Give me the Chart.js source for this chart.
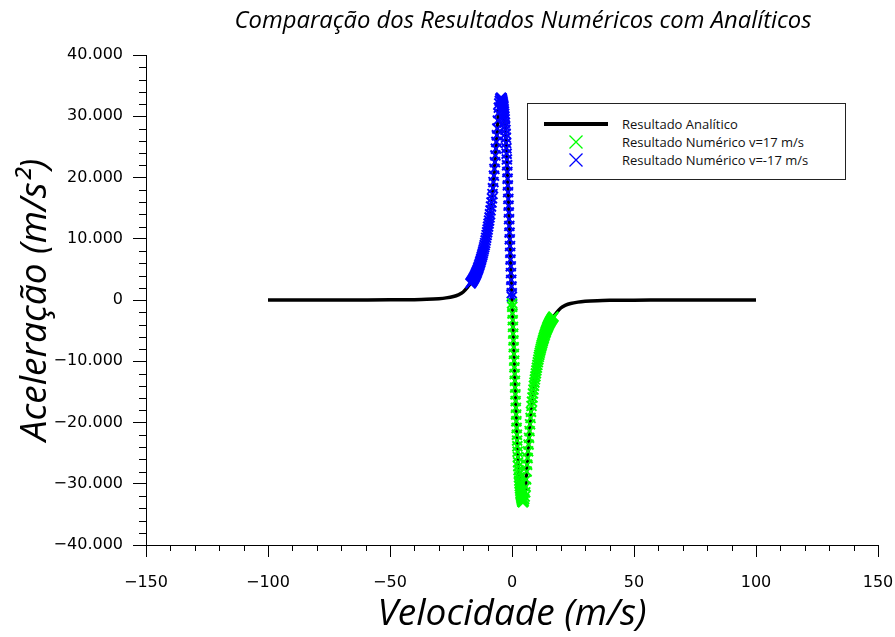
<!DOCTYPE html>
<html lang="pt">
<head>
<meta charset="utf-8">
<title>Comparação dos Resultados Numéricos com Analíticos</title>
<script src="https://cdn.jsdelivr.net/npm/chart.js@4.4.1/dist/chart.umd.min.js"></script>
<style>
  body { margin: 0; background: #fff; }
  #wrap { position: relative; width: 895px; height: 637px; }
  #legend {
    position: absolute; left: 527px; top: 103px; width: 317px; height: 75px;
    border: 1px solid #222; background: #fff;
    font: 13px "Open Sans", Lato, sans-serif; color: #111;
  }
  #legend .row { position: absolute; left: 0; height: 18px; width: 100%; }
  #legend .sym { position: absolute; left: 14px; top: 0; width: 68px; height: 18px; }
  #legend .txt { position: absolute; left: 94px; top: 0; line-height: 18px; white-space: nowrap; }
</style>
</head>
<body>
<div id="wrap">
  <canvas id="chart" width="895" height="637"></canvas>
  <div id="legend"></div>
</div>
<script>
  // axis ranges and ticks
  const xMin = -150, xMax = 150, xStep = 50, xMinorStep = 10;
  const yMin = -40000, yMax = 40000, yStep = 10000, yMinorStep = 2000;

  // analytic curve: velocity (m/s) and acceleration (m/s²)
  const analyticV = [-100, -80, -60, -50, -40, -35, -30, -27, -24, -22, -20, -18, -16, -14, -12, -11, -10, -9, -8, -7, -6, -5.5, -5, -4.5, -4, -3.5, -3, -2.5, -2, -1.5, -1, -0.5,
    0, 0.5, 1, 1.5, 2, 2.5, 3, 3.5, 4, 4.5, 5, 5.5, 6, 7, 8, 9, 10, 11, 12, 14, 16, 18, 20, 22, 24, 27, 30, 35, 40, 50, 60, 80, 100];
  const analyticA = [2, 5, 12, 25, 60, 110, 220, 350, 580, 850, 1300, 2200, 3300, 5000, 7600, 9300, 11500, 14000, 17300, 22500, 28000, 31000, 32500, 33000, 32500, 31500, 29500, 26500, 22000, 16500, 11000, 5500,
    0, -5500, -11000, -16500, -22000, -26500, -29500, -31500, -32500, -33000, -32500, -31000, -28000, -22500, -17300, -14000, -11500, -9300, -7600, -5000, -3300, -2200, -1300, -850, -580, -350, -220, -110, -60, -25, -12, -5, -2];

  // numerical result, starting at v = 17 m/s
  const posV = [17.0, 16.8, 16.6, 16.4, 16.2, 16.0, 15.8, 15.6, 15.4, 15.2, 15.0, 14.8, 14.6, 14.4, 14.2, 14.0, 13.8, 13.6, 13.4, 13.2, 13.0,
    12.8, 12.6, 12.4, 12.2, 12.0, 11.8, 11.6, 11.4, 11.2, 11.0, 10.8, 10.6, 10.4, 10.2, 10.0, 9.8, 9.6, 9.4, 9.2, 9.0,
    8.8, 8.6, 8.4, 8.2, 8.0, 7.8, 7.6, 7.4, 7.2, 7.0, 6.8, 6.6, 6.4, 6.2, 6.0, 5.8, 5.6, 5.4, 5.2, 5.0, 4.8, 4.6,
    4.4, 4.3, 4.2, 4.1, 4.0, 3.9, 3.8, 3.7, 3.6, 3.5, 3.4, 3.3, 3.2, 3.1, 3.0, 2.9, 2.8, 2.7, 2.6, 2.5, 2.4, 2.3, 2.2, 2.1, 2.0,
    1.9, 1.8, 1.7, 1.6, 1.5, 1.4, 1.3, 1.2, 1.1, 1.0, 0.9, 0.8, 0.7, 0.6, 0.5, 0.4, 0.3, 0.2, 0.1, 0.05];
  const posA = [-2700, -2810, -2930, -3050, -3170, -3300, -3440, -3580, -3730, -3890, -4050, -4230, -4410, -4600, -4800, -5000, -5230, -5460, -5700, -5950, -6200,
    -6470, -6750, -7030, -7310, -7600, -7930, -8260, -8600, -8950, -9300, -9720, -10150, -10600, -11050, -11500, -11980, -12470, -12970, -13480, -14000,
    -14620, -15260, -15920, -16600, -17300, -18250, -19250, -20300, -21400, -22500, -23600, -24700, -25800, -26900, -28000, -29300, -30500, -31400, -32100, -32500, -32800, -33000,
    -33000, -32950, -32850, -32700, -32500, -32320, -32120, -31920, -31720, -31500, -31150, -30780, -30400, -29960, -29500, -28950, -28380, -27780, -27150, -26500, -25650, -24780, -23880, -22950, -22000,
    -20900, -19800, -18700, -17600, -16500, -15400, -14300, -13200, -12100, -11000, -9900, -8800, -7700, -6600, -5500, -4400, -3300, -2200, -1100, -550];

  // numerical result, starting at v = -17 m/s
  const negV = [-17.0, -16.8, -16.6, -16.4, -16.2, -16.0, -15.8, -15.6, -15.4, -15.2, -15.0, -14.8, -14.6, -14.4, -14.2, -14.0, -13.8, -13.6, -13.4, -13.2, -13.0,
    -12.8, -12.6, -12.4, -12.2, -12.0, -11.8, -11.6, -11.4, -11.2, -11.0, -10.8, -10.6, -10.4, -10.2, -10.0, -9.8, -9.6, -9.4, -9.2, -9.0,
    -8.8, -8.6, -8.4, -8.2, -8.0, -7.8, -7.6, -7.4, -7.2, -7.0, -6.8, -6.6, -6.4, -6.2, -6.0, -5.8, -5.6, -5.4, -5.2, -5.0, -4.8, -4.6,
    -4.4, -4.3, -4.2, -4.1, -4.0, -3.9, -3.8, -3.7, -3.6, -3.5, -3.4, -3.3, -3.2, -3.1, -3.0, -2.9, -2.8, -2.7, -2.6, -2.5, -2.4, -2.3, -2.2, -2.1, -2.0,
    -1.9, -1.8, -1.7, -1.6, -1.5, -1.4, -1.3, -1.2, -1.1, -1.0, -0.9, -0.8, -0.7, -0.6, -0.5, -0.4, -0.3, -0.2, -0.1, -0.05];
  const negA = [2700, 2810, 2930, 3050, 3170, 3300, 3440, 3580, 3730, 3890, 4050, 4230, 4410, 4600, 4800, 5000, 5230, 5460, 5700, 5950, 6200,
    6470, 6750, 7030, 7310, 7600, 7930, 8260, 8600, 8950, 9300, 9720, 10150, 10600, 11050, 11500, 11980, 12470, 12970, 13480, 14000,
    14620, 15260, 15920, 16600, 17300, 18250, 19250, 20300, 21400, 22500, 23600, 24700, 25800, 26900, 28000, 29300, 30500, 31400, 32100, 32500, 32800, 33000,
    33000, 32950, 32850, 32700, 32500, 32320, 32120, 31920, 31720, 31500, 31150, 30780, 30400, 29960, 29500, 28950, 28380, 27780, 27150, 26500, 25650, 24780, 23880, 22950, 22000,
    20900, 19800, 18700, 17600, 16500, 15400, 14300, 13200, 12100, 11000, 9900, 8800, 7700, 6600, 5500, 4400, 3300, 2200, 1100, 550];

  const labels = ['Resultado Analítico', 'Resultado Numérico v=17 m/s', 'Resultado Numérico v=-17 m/s'];
  const colors = ['#000000', '#00ff00', '#0000ff'];

  const toPoints = (xs, ys) => xs.map((x, i) => ({ x: x, y: ys[i] }));

  // 10000 -> "10.000", negatives with a real minus sign
  function fmt(v) {
    const s = String(Math.abs(v)).replace(/\B(?=(\d{3})+(?!\d))/g, '.');
    return v < 0 ? '\u2212' + s : s;
  }

  const tickFont = { family: 'DejaVu Sans', size: 16 };
  const titleFont = { family: 'Open Sans', size: 37, style: 'italic' };

  // small ticks between the labelled ones
  const minorTicks = {
    id: 'minorTicks',
    afterDraw(chart) {
      const { ctx, scales: { x, y } } = chart;
      ctx.save();
      ctx.strokeStyle = '#000';
      ctx.lineWidth = 1;
      ctx.beginPath();
      for (let v = xMin; v <= xMax; v += xMinorStep) {
        if (v % xStep === 0) continue;
        const px = Math.round(x.getPixelForValue(v)) + 0.5;
        ctx.moveTo(px, x.top);
        ctx.lineTo(px, x.top + 6);
      }
      for (let v = yMin; v <= yMax; v += yMinorStep) {
        if (v % yStep === 0) continue;
        const py = Math.round(y.getPixelForValue(v)) + 0.5;
        ctx.moveTo(y.right, py);
        ctx.lineTo(y.right - 7, py);
      }
      ctx.stroke();
      ctx.restore();
    }
  };

  // chart title, sitting a little right of the plot centre
  const topTitle = {
    id: 'topTitle',
    afterDraw(chart) {
      const { ctx, chartArea } = chart;
      ctx.save();
      ctx.font = 'italic 23.8px "Open Sans"';
      ctx.fillStyle = '#000';
      ctx.textAlign = 'center';
      ctx.textBaseline = 'middle';
      ctx.fillText('Comparação dos Resultados Numéricos com Analíticos', (chartArea.left + chartArea.right) / 2 + 11, 21);
      ctx.restore();
    }
  };

  const ctx = document.getElementById('chart').getContext('2d');
  const chart = new Chart(ctx, {
    type: 'scatter',
    data: {
      datasets: [{
        label: labels[0],
        data: toPoints(analyticV, analyticA),
        showLine: true,
        borderColor: colors[0],
        borderWidth: 3.5,
        pointRadius: 0,
        cubicInterpolationMode: 'monotone',
        order: 2
      }, {
        label: labels[1],
        data: toPoints(posV, posA),
        pointStyle: 'crossRot',
        pointRadius: 7,
        borderColor: colors[1],
        borderWidth: 2,
        order: 1
      }, {
        label: labels[2],
        data: toPoints(negV, negA),
        pointStyle: 'crossRot',
        pointRadius: 7,
        borderColor: colors[2],
        borderWidth: 2,
        order: 1
      }]
    },
    options: {
      responsive: false,
      animation: false,
      devicePixelRatio: 1,
      layout: { autoPadding: false, padding: { top: 55, right: 17, bottom: 0, left: 0 } },
      plugins: { legend: { display: false }, tooltip: { enabled: false } },
      scales: {
        x: {
          type: 'linear', min: xMin, max: xMax,
          ticks: { stepSize: xStep, font: tickFont, color: '#000', padding: 16, maxRotation: 0, callback: v => fmt(v) },
          grid: { drawOnChartArea: false, tickLength: 12, tickColor: '#000' },
          border: { color: '#000', width: 1 },
          title: { display: true, text: 'Velocidade (m/s)', font: titleFont, color: '#000', padding: { top: 0, bottom: 0 } },
          // keep the plot edge fixed; the end labels may hang over
          afterFit(s) { s.height = 92; s.paddingLeft = 0; s.paddingRight = 0; }
        },
        y: {
          type: 'linear', min: yMin, max: yMax,
          ticks: { stepSize: yStep, font: tickFont, color: '#000', padding: 10, callback: v => fmt(v) },
          grid: { drawOnChartArea: false, tickLength: 13, tickColor: '#000' },
          border: { color: '#000', width: 1 },
          title: { display: true, text: 'Aceleração (m/s²)', font: titleFont, color: '#000', padding: { top: 13, bottom: 0 } },
          afterFit(s) { s.width = 146; s.paddingTop = 0; s.paddingBottom = 0; }
        }
      }
    },
    plugins: [minorTicks, topTitle]
  });

  // legend box built from the dataset labels and colours
  const legend = document.getElementById('legend');
  const rowTops = [11, 29, 47];
  chart.data.datasets.forEach((ds, i) => {
    const sym = ds.showLine
      ? '<svg class="sym" viewBox="0 0 68 18"><line x1="2" y1="9" x2="66" y2="9" stroke="' + ds.borderColor + '" stroke-width="4"/></svg>'
      : '<svg class="sym" viewBox="0 0 68 18"><path d="M27.5 2.5 L40.5 15.5 M40.5 2.5 L27.5 15.5" stroke="' + ds.borderColor + '" stroke-width="1.3" fill="none"/></svg>';
    legend.insertAdjacentHTML('beforeend',
      '<div class="row" style="top:' + rowTops[i] + 'px">' + sym + '<span class="txt">' + ds.label + '</span></div>');
  });
</script>
</body>
</html>
